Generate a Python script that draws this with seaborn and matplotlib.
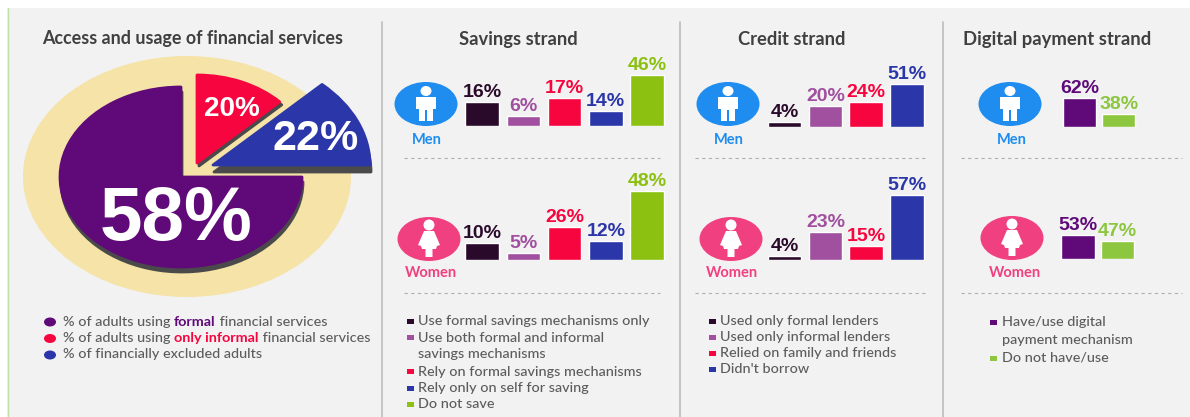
import matplotlib
matplotlib.use("Agg")
import matplotlib.pyplot as plt
from matplotlib.patches import Ellipse, Polygon, Rectangle
import seaborn as sns

# ---- data: printed percentages ----
pie_names = ["formal", "only informal", "excluded"]
pie_pct = [58, 20, 22]
savings_cats = ["Formal only", "Both", "Rely on formal", "Self", "Do not save"]
savings_men = [16, 6, 17, 14, 46]
savings_women = [10, 5, 26, 12, 48]
credit_cats = ["Formal lenders", "Informal lenders", "Family and friends", "Didn't borrow"]
credit_men = [4, 20, 24, 51]
credit_women = [4, 23, 15, 57]
digital_cats = ["Have/use", "Do not have/use"]
digital_men = [62, 38]
digital_women = [53, 47]

# The source infographic is not drawn to scale, so its marks are read separately
# from the picture: bar lengths as drawn, and wedge sweeps in degrees as drawn.
pie_drawn_deg = [270, 46, 46]
savings_men_drawn = [24, 10, 28, 15, 51]
savings_women_drawn = [17, 7, 33, 19, 69]
credit_men_drawn = [5, 21, 25, 43]
credit_women_drawn = [4.5, 28, 14, 65]
digital_men_drawn = [29, 13]
digital_women_drawn = [24, 18]

# ---- text ----
left_legend = [
    [("% of adults using ", None), ("formal", "#5f0a78"), (" financial services", None)],
    [("% of adults using ", None), ("only informal", "#f7053f"), (" financial services", None)],
    [("% of financially excluded adults", None)],
]
savings_legend = ["Use formal savings mechanisms only",
                  "Use both formal and informal\nsavings mechanisms",
                  "Rely on formal savings mechanisms",
                  "Rely only on self for saving", "Do not save"]
credit_legend = ["Used only formal lenders", "Used only informal lenders",
                 "Relied on family and friends", "Didn't borrow"]
digital_legend = ["Have/use digital\npayment mechanism", "Do not have/use"]

# ---- style ----
W, H = 1190, 417
DARK, ORCHID, RED, BLUE, GREEN = "#2a0a2a", "#a0509e", "#f7053f", "#2b36a8", "#8cc011"
PURPLE, LIME, CREAM = "#5f0a78", "#8dc63f", "#f5e3a8"
MEN, WOMEN = "#1f8cf0", "#f0407f"
SHADOW = "#4a4a4a"
TITLE_C, TEXT_C = "#404040", "#5c5c5c"
SANS = "Lato"
NUM = "Liberation Sans"
LEG_FS = 10.35

sns.set_theme(style="white")
plt.rcParams["font.family"] = [SANS, "DejaVu Sans"]

fig = plt.figure(figsize=(W / 100, H / 100), dpi=100, facecolor="white")
bg = fig.add_axes([0, 0, 1, 1], zorder=0)
bg.set_xlim(0, W)
bg.set_ylim(H, 0)
bg.axis("off")
top = fig.add_axes([0, 0, 1, 1], zorder=10)
top.set_xlim(0, W)
top.set_ylim(H, 0)
top.axis("off")
top.patch.set_alpha(0)


def px_axes(x0, y0, w, h, zorder=2):
    """Axes placed by pixel box; y0 is the top edge in image coordinates."""
    ax = fig.add_axes([x0 / W, 1 - (y0 + h) / H, w / W, h / H], zorder=zorder)
    ax.patch.set_alpha(0)
    return ax


# panel, dividers
bg.add_patch(Rectangle((7, 8), W - 7, H - 8, fc="#f2f2f2", ec="none"))
bg.plot([7.5, 7.5], [8, H], color="#bfe0a8", lw=1.0)
for x in [382, 680, 943]:
    bg.plot([x, x], [22, H], color="#bcbcbc", lw=1.2)
for x0, x1 in [(404, 660), (695, 925), (961, 1182)]:
    for y in [158, 293]:
        bg.plot([x0, x1], [y, y], color="#b0b0b0", lw=0.8, dashes=(3, 3))

# titles
for txt, x, y, fs in [("Access and usage of financial services", 193, 38.5, 12.9),
                      ("Savings strand", 518, 39.5, 13.2), ("Credit strand", 792, 39.5, 13.2),
                      ("Digital payment strand", 1057, 39.5, 13.3)]:
    top.text(x, y, txt, ha="center", va="center", fontsize=fs, fontweight="bold",
             color=TITLE_C, family=SANS)

# pie
bg.add_patch(Ellipse((187, 176.5), 328, 241, fc=CREAM, ec="none"))
wedges = [  # apex x, apex y, rx, ry, start angle, colour, shadow dx, dy
    (181, 177, 121, 90, 90, PURPLE, 1, 5),
    (197, 163, 115, 88, 44, RED, 2, 3),
    (213, 165, 157, 112, 0, BLUE, 1, 7),
]
for (cx, cy, rx, ry, start, col, dx, dy), sweep in zip(wedges, pie_drawn_deg):
    for off_x, off_y, c in [(dx, dy, SHADOW), (0, 0, col)]:
        ax = px_axes(cx - rx + off_x, cy - ry + off_y, 2 * rx, 2 * ry, zorder=1)
        ax.pie([sweep / 360], normalize=False, startangle=start, colors=[c], radius=1,
               wedgeprops={"lw": 2, "ec": c, "joinstyle": "round"})
        ax.set_aspect("auto")
        ax.set_xlim(-1, 1)
        ax.set_ylim(-1, 1)
for val, x, y, fs in zip(pie_pct, [176, 232, 316], [220.5, 109, 139], [55, 20, 31]):
    top.text(x, y, f"{val}%", ha="center", va="center", color="white", fontsize=fs,
             fontweight="bold", family=NUM)


# left legend
def rich_line(x, y, parts, fs=LEG_FS):
    r = fig.canvas.get_renderer()
    for s, c in parts:
        t = top.text(x, y, s, va="center", ha="left", fontsize=fs, color=c or TEXT_C,
                     fontweight="bold" if c else "medium", family=SANS)
        bb = t.get_window_extent(r)
        x += bb.width


for parts, y, c in zip(left_legend, [321.5, 338, 354.5], [PURPLE, RED, BLUE]):
    top.add_patch(Ellipse((50, y + 0.5), 12, 9, fc=c, ec="none"))
    rich_line(63, y, parts)


def square_legend(xs, xt, ys, labels, colors):
    for lab, y, c in zip(labels, ys, colors):
        top.add_patch(Rectangle((xs - 3.5, y - 2.5), 7, 5, fc=c, ec="none"))
        for i, line in enumerate(lab.split("\n")):
            top.text(xt, y + i * 17, line, va="center", ha="left", fontsize=LEG_FS,
                     color=TEXT_C, fontweight="medium", family=SANS)


square_legend(410, 418, [321, 337.5, 371.5, 388, 404], savings_legend,
              [DARK, ORCHID, RED, BLUE, GREEN])
square_legend(712, 720, [321, 337, 353, 369], credit_legend, [DARK, ORCHID, RED, BLUE])
square_legend(993, 1002, [322.5, 358], digital_legend, [PURPLE, LIME])


# badges
def person(cx, cy, woman):
    if woman:
        top.add_patch(Ellipse((cx, cy - 14), 11, 11, fc="white", ec="none"))
        top.add_patch(Polygon([(cx - 5, cy - 8), (cx + 5, cy - 8), (cx + 11, cy + 6),
                               (cx + 8, cy + 7), (cx + 7, cy + 10), (cx + 3.5, cy + 10),
                               (cx + 3.5, cy + 18), (cx - 3.5, cy + 18), (cx - 3.5, cy + 10),
                               (cx - 7, cy + 10), (cx - 8, cy + 7), (cx - 11, cy + 6)],
                              fc="white", ec="none"))
    else:
        top.add_patch(Ellipse((cx, cy - 13), 11, 10, fc="white", ec="none"))
        top.add_patch(Polygon([(cx - 10, cy - 7), (cx + 10, cy - 7), (cx + 10, cy + 5),
                               (cx + 7, cy + 5), (cx + 7, cy + 17), (cx + 1, cy + 17),
                               (cx + 1, cy + 6), (cx - 1, cy + 6), (cx - 1, cy + 17),
                               (cx - 7, cy + 17), (cx - 7, cy + 5), (cx - 10, cy + 5)],
                              fc="white", ec="none"))


badges = [(426, 104, 427, 140, False), (429, 239, 431, 273, True),
          (728, 104, 729, 140, False), (731, 239, 732, 273, True),
          (1010, 104, 1012, 140, False), (1012, 238, 1015, 273, True)]
for cx, cy, lx, ly, woman in badges:
    col = WOMEN if woman else MEN
    top.add_patch(Ellipse((cx, cy), 63, 44, fc=col, ec="none"))
    person(cx, cy, woman)
    top.text(lx, ly, "Women" if woman else "Men", ha="center", va="center", color=col,
             fontsize=10.5, fontweight="bold", family=SANS)


# bars
def bars(first_center, spacing, base, cats, drawn, printed, colors):
    n = len(cats)
    tall = 90
    ax = px_axes(first_center - spacing / 2, base - tall, n * spacing, tall)
    sns.barplot(x=cats, y=drawn, hue=cats, palette=colors, legend=False, ax=ax,
                width=33.5 / spacing, saturation=1)
    ax.set_ylim(0, tall)
    ax.set_xlim(-0.5, n - 0.5)
    ax.axis("off")
    for cont, val, c in zip(ax.containers, printed, colors):
        ax.bar_label(cont, labels=[f"{val}%"], padding=0.5, color=c, fontsize=14,
                     fontweight="bold", family=NUM)


sav_c = [DARK, ORCHID, RED, BLUE, GREEN]
cre_c = [DARK, ORCHID, RED, BLUE]
dig_c = [PURPLE, LIME]
bars(482, 41.25, 126, savings_cats, savings_men_drawn, savings_men, sav_c)
bars(482, 41.25, 260, savings_cats, savings_women_drawn, savings_women, sav_c)
bars(784.7, 40.7, 127, credit_cats, credit_men_drawn, credit_men, cre_c)
bars(784.7, 40.7, 260, credit_cats, credit_women_drawn, credit_women, cre_c)
bars(1079.3, 39.4, 127, digital_cats, digital_men_drawn, digital_men, dig_c)
bars(1078, 39.7, 259, digital_cats, digital_women_drawn, digital_women, dig_c)

fig.savefig("out.png", dpi=100, facecolor="white")
